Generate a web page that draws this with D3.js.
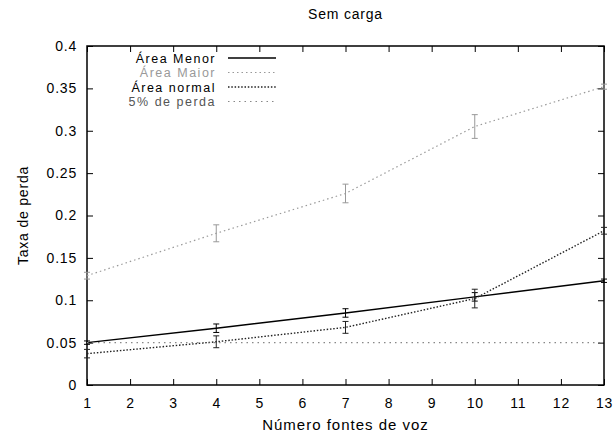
<!DOCTYPE html>
<html>
<head>
<meta charset="utf-8">
<script src="https://cdn.jsdelivr.net/npm/d3@7"></script>
<style>
  body { margin: 0; background: #fff; }
  text { font-family: "Liberation Sans", Arial, sans-serif; }
</style>
</head>
<body>
<div id="chart"></div>
<script>
// data
var fontes = [1, 4, 7, 10, 13];
var menor = [0.050, 0.067, 0.085, 0.104, 0.123];
var menorErr = [0.002, 0.005, 0.005, 0.005, 0.002];
var maior = [0.129, 0.179, 0.226, 0.305, 0.352];
var maiorErr = [0.004, 0.010, 0.011, 0.014, 0.003];
var normal = [0.037, 0.051, 0.068, 0.102, 0.182];
var normalErr = [0.005, 0.007, 0.007, 0.011, 0.004];
var perda = [0.05, 0.05, 0.05, 0.05, 0.05];
var xTicks = [1, 2, 3, 4, 5, 6, 7, 8, 9, 10, 11, 12, 13];
var yTicks = [0, 0.05, 0.1, 0.15, 0.2, 0.25, 0.3, 0.35, 0.4];

var svgWidth = 616;
var svgHeight = 437;
var margin = { top: 46, right: 12, bottom: 52, left: 87 };
var chartWidth = svgWidth - margin.left - margin.right;
var chartHeight = svgHeight - margin.top - margin.bottom;

var svg = d3.select("#chart").append("svg")
  .attr("width", svgWidth)
  .attr("height", svgHeight);

var chartGroup = svg.append("g")
  .attr("transform", `translate(${margin.left}, ${margin.top})`);

var xScale = d3.scaleLinear().domain([1, 13]).range([0, chartWidth]);
var yScale = d3.scaleLinear().domain([0, 0.4]).range([chartHeight, 0]);

// axes, gnuplot style: ticks inside on all four sides
var fmt = d => d3.format("")(+d.toFixed(2));
chartGroup.append("g")
  .attr("transform", `translate(0, ${chartHeight})`)
  .call(d3.axisBottom(xScale).tickValues(xTicks).tickSize(-6).tickPadding(13))
  .call(g => g.select(".domain").remove());
chartGroup.append("g")
  .call(d3.axisTop(xScale).tickValues(xTicks).tickSize(-6).tickFormat(""))
  .call(g => g.select(".domain").remove());
chartGroup.append("g")
  .call(d3.axisLeft(yScale).tickValues(yTicks).tickSize(-6).tickPadding(10).tickFormat(fmt))
  .call(g => g.select(".domain").remove());
chartGroup.append("g")
  .attr("transform", `translate(${chartWidth}, 0)`)
  .call(d3.axisRight(yScale).tickValues(yTicks).tickSize(-6).tickFormat(""))
  .call(g => g.select(".domain").remove());

chartGroup.selectAll(".tick text")
  .attr("font-size", 14)
  .attr("letter-spacing", 0.8)
  .attr("font-family", "Liberation Sans, Arial, sans-serif")
  .attr("fill", "#000");
chartGroup.selectAll(".tick line").attr("stroke", "#000");

chartGroup.append("rect")
  .attr("width", chartWidth)
  .attr("height", chartHeight)
  .attr("fill", "none")
  .attr("stroke", "#000")
  .attr("stroke-width", 1.5);

var series = [
  { name: "Área Menor", values: menor, err: menorErr, color: "#000", dash: null, width: 1.4, textColor: "#000" },
  { name: "Área Maior", values: maior, err: maiorErr, color: "#999", dash: "1.5,3", width: 1.2, textColor: "#999" },
  { name: "Área normal", values: normal, err: normalErr, color: "#222", dash: "1.5,1.8", width: 1.4, textColor: "#000" },
  { name: "5% de perda", values: perda, err: null, color: "#888", dash: "1.5,4", width: 1.2, textColor: "#555" }
];

var line = d3.line()
  .x((d, i) => xScale(fontes[i]))
  .y(d => yScale(d));

series.forEach(function(s) {
  chartGroup.append("path")
    .datum(s.values)
    .attr("d", line)
    .attr("fill", "none")
    .attr("stroke", s.color)
    .attr("stroke-width", s.width)
    .attr("stroke-dasharray", s.dash);

  if (s.err) {
    var bars = chartGroup.selectAll(null)
      .data(s.values)
      .enter()
      .append("g")
      .attr("stroke", s.color)
      .attr("stroke-width", 1);
    bars.append("line")
      .attr("x1", (d, i) => xScale(fontes[i]))
      .attr("x2", (d, i) => xScale(fontes[i]))
      .attr("y1", (d, i) => yScale(d - s.err[i]))
      .attr("y2", (d, i) => yScale(d + s.err[i]));
    bars.append("line")
      .attr("x1", (d, i) => xScale(fontes[i]) - 3)
      .attr("x2", (d, i) => xScale(fontes[i]) + 3)
      .attr("y1", (d, i) => yScale(d - s.err[i]))
      .attr("y2", (d, i) => yScale(d - s.err[i]));
    bars.append("line")
      .attr("x1", (d, i) => xScale(fontes[i]) - 3)
      .attr("x2", (d, i) => xScale(fontes[i]) + 3)
      .attr("y1", (d, i) => yScale(d + s.err[i]))
      .attr("y2", (d, i) => yScale(d + s.err[i]));
  }
});

// legend
var legend = svg.append("g")
  .attr("transform", "translate(216, 58)");
series.forEach(function(s, i) {
  legend.append("text")
    .attr("x", 0)
    .attr("y", i * 14.5 + 4.5)
    .attr("text-anchor", "end")
    .attr("font-size", 12.5)
    .attr("letter-spacing", 1.5)
    .attr("fill", s.textColor)
    .text(s.name);
  legend.append("line")
    .attr("x1", 12)
    .attr("x2", 60)
    .attr("y1", i * 14.5)
    .attr("y2", i * 14.5)
    .attr("stroke", s.color)
    .attr("stroke-width", s.width)
    .attr("stroke-dasharray", s.dash);
});

// title and axis labels
svg.append("text")
  .attr("x", margin.left + chartWidth / 2)
  .attr("y", 19)
  .attr("text-anchor", "middle")
  .attr("font-size", 14)
  .attr("letter-spacing", 0.8)
  .text("Sem carga");

svg.append("text")
  .attr("x", margin.left + chartWidth / 2)
  .attr("y", 430)
  .attr("text-anchor", "middle")
  .attr("font-size", 15)
  .attr("letter-spacing", 1)
  .text("Número fontes de voz");

svg.append("text")
  .attr("transform", "translate(28," + (margin.top + chartHeight / 2) + ") rotate(-90)")
  .attr("text-anchor", "middle")
  .attr("font-size", 14)
  .attr("letter-spacing", 0.8)
  .text("Taxa de perda");
</script>
</body>
</html>
